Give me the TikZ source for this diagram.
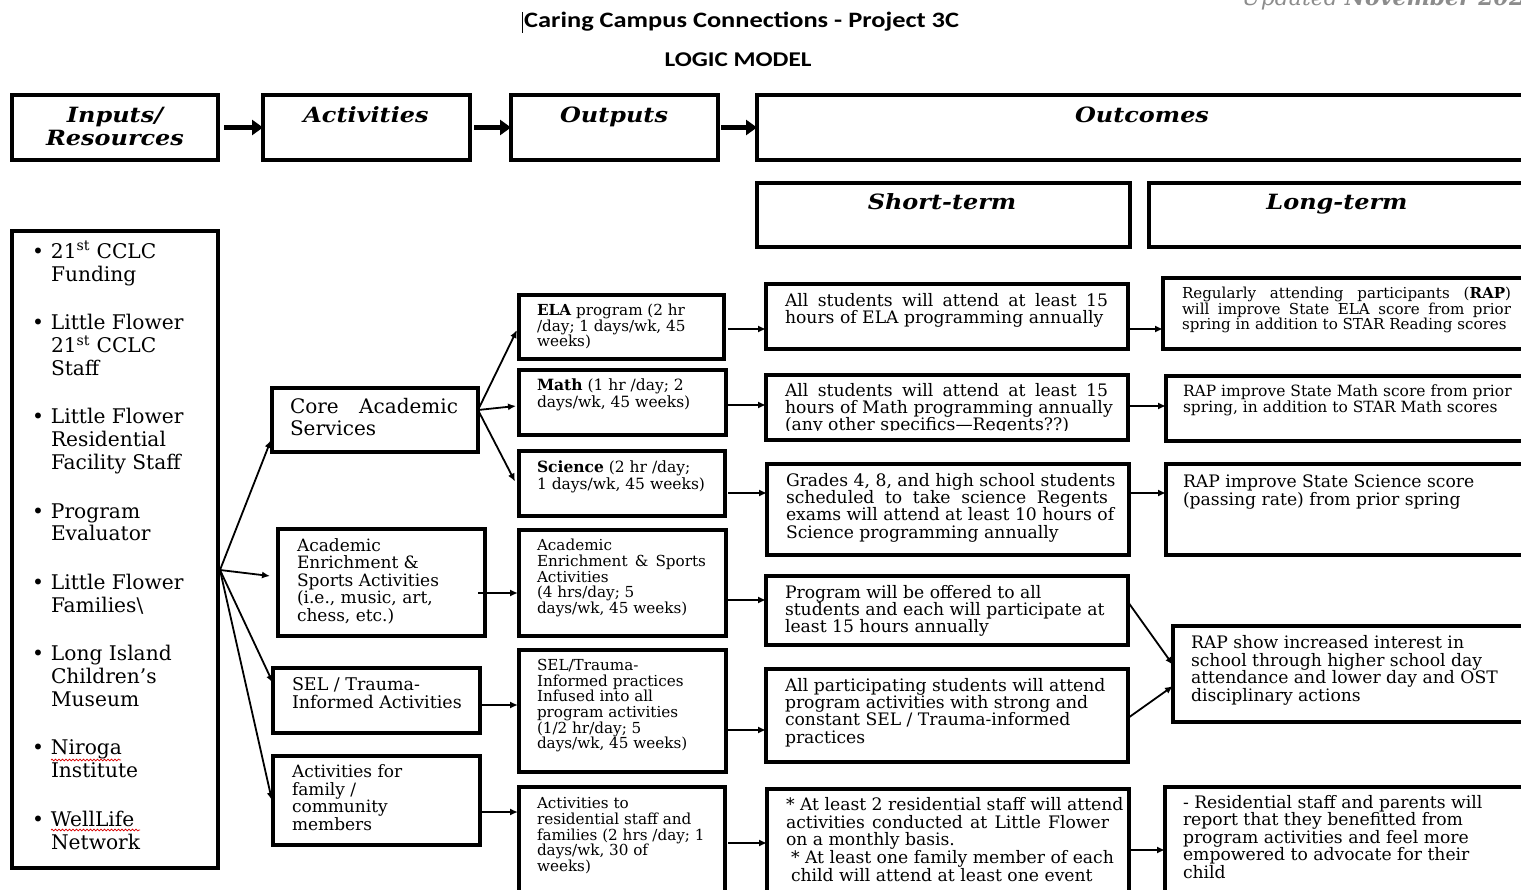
\documentclass[tikz,border=0pt]{standalone}
\usepackage{fontspec}
\setmainfont{DejaVu Serif}
\newfontfamily\titlefont[FakeStretch=1.2]{Carlito}
\newfontfamily\hdrfont[FakeStretch=1.14]{DejaVu Serif}
\usetikzlibrary{arrows.meta,calc,decorations.pathmorphing}
\newcommand\fsz[2]{\fontsize{#1pt}{#2pt}\selectfont}
\newcommand\fstrut{\rule{0pt}{0.8em}}
\newcommand\jl[2]{\makebox[#1pt][s]{#2}}
\newcommand\bul{\makebox[19pt][l]{•}}
\newcommand\ind{\hspace*{19pt}}
\begin{document}
\begin{tikzpicture}[x=1pt,y=-1pt,
 box/.style={draw, line width=3.2pt, anchor=north west, inner sep=0pt, outer sep=0pt},
 txt/.style={anchor=north west, inner sep=0pt, outer sep=0pt, align=left},
 hdr/.style={anchor=north, inner sep=0pt, align=center, font=\hdrfont\fsz{21}{23}\bfseries\itshape},
 arr/.style={line width=1.8pt, -{Latex[length=8pt,width=7pt]}},
 harr/.style={line width=5pt, -{Triangle[length=11pt,width=15pt]}},
 wavy/.style={red!85!black, line width=0.7pt, decorate, decoration={snake, amplitude=0.9pt, segment length=3.5pt}},
]
\useasboundingbox (0,0) rectangle (1521,890);
\clip (0,0) rectangle (1521,890);
\fill[white] (0,0) rectangle (1521,890);

% title
\node[anchor=west, inner sep=0pt, font=\titlefont\bfseries\fsz{22}{24}] (title) at (524,22) {Caring Campus Connections - Project 3C};
\draw[line width=1pt] (title.west) ++(-2,-10) -- ++(0,21);
\node[inner sep=0pt, font=\titlefont\bfseries\fsz{21}{24}] (logic) at (738,60) {LOGIC MODEL};
\node[anchor=base west, inner sep=0pt, text=black!45, font=\fsz{22}{24}\itshape] (upd) at (1242,6) {Updated \textbf{November 2023}};

% header boxes
\node[box, minimum width=206pt, minimum height=65pt] (inp) at (12,95) {};
\node[box, minimum width=207pt, minimum height=65pt] (act) at (263,95) {};
\node[box, minimum width=207pt, minimum height=65pt] (out) at (511,95) {};
\node[box, minimum width=800pt, minimum height=65pt] (outc) at (757,95) {};
\node[box, minimum width=373pt, minimum height=64pt] (st) at (757,183) {};
\node[box, minimum width=400pt, minimum height=64pt] (lt) at (1149,183) {};
\node[hdr] (inpt) at (115,106) {\fstrut Inputs/\\Resources};
\node[hdr] (actt) at (366,106) {\fstrut Activities};
\node[hdr] (outt) at (614,106) {\fstrut Outputs};
\node[hdr] (outct) at (1142,106) {\fstrut Outcomes};
\node[hdr] (stt) at (942,193) {\fstrut Short-term};
\node[hdr] (ltt) at (1337,193) {\fstrut Long-term};
\draw[harr] ($(inp.east)+(6,0)$) -- (act.west);
\draw[harr] ($(act.east)+(4,0)$) -- (out.west);
\draw[harr] ($(out.east)+(3,0)$) -- (outc.west);

% inputs list
\node[box, minimum width=206pt, minimum height=637pt] (res) at (12,231) {};
\node[txt, font=\fsz{20.2}{22.7}] (rest) at (32,241.3) {\fstrut\bul 21\textsuperscript{st} CCLC\\ \ind Funding\\[26pt]
\bul Little Flower\\ \ind 21\textsuperscript{st} CCLC\\ \ind Staff\\[26pt]
\bul Little Flower\\ \ind Residential\\ \ind Facility Staff\\[26pt]
\bul Program\\ \ind Evaluator\\[26pt]
\bul Little Flower\\ \ind Families\textbackslash\\[26pt]
\bul Long Island\\ \ind Children’s\\ \ind Museum\\[26pt]
\bul Niroga\\ \ind Institute\\[26pt]
\bul WellLife\\ \ind Network};
\draw[wavy] (51,760) -- (121,760);
\draw[wavy] (51,830) -- (140,830);

% activities
\node[box, minimum width=206pt, minimum height=64pt] (core) at (272,388) {};
\node[txt, font=\fsz{20}{22}] (coret) at (290,397.4) {\fstrut\jl{168}{Core Academic}\\Services};
\node[box, minimum width=207pt, minimum height=107pt] (aea) at (278,529) {};
\node[txt, font=\fsz{17}{17.5}] (aeat) at (297,537.7) {\fstrut Academic\\Enrichment \&\\Sports Activities\\(i.e., music, art,\\chess, etc.)};
\node[box, minimum width=207pt, minimum height=65pt] (sela) at (273,668) {};
\node[txt, font=\fsz{17.5}{18}] (selat) at (292,676.5) {\fstrut SEL / Trauma-\\Informed Activities};
\node[box, minimum width=207pt, minimum height=89pt] (fama) at (273,756) {};
\node[txt, font=\fsz{17}{17.7}] (famat) at (292,763.7) {\fstrut Activities for\\family /\\community\\members};

% outputs
\node[box, minimum width=205pt, minimum height=64pt] (ela) at (519,295) {};
\node[txt, font=\fsz{15.2}{15.5}] (elat) at (537,303.5) {\fstrut\textbf{ELA} program (2 hr\\/day; 1 days/wk, 45\\weeks)};
\node[box, minimum width=207pt, minimum height=65pt] (math) at (519,370) {};
\node[txt, font=\fsz{15.5}{17}] (matht) at (537,378.3) {\fstrut\textbf{Math} (1 hr /day; 2\\days/wk, 45 weeks)};
\node[box, minimum width=206pt, minimum height=65pt] (sci) at (519,451) {};
\node[txt, font=\fsz{15.5}{17}] (scit) at (537,460.3) {\fstrut\textbf{Science} (2 hr /day;\\1 days/wk, 45 weeks)};
\node[box, minimum width=207pt, minimum height=106pt] (aeo) at (519,530) {};
\node[txt, font=\fsz{15.2}{15.75}] (aeot) at (537,538.5) {\fstrut Academic\\\jl{169}{Enrichment \& Sports}\\Activities\\(4 hrs/day; 5\\days/wk, 45 weeks)};
\node[box, minimum width=207pt, minimum height=122pt] (selo) at (519,650) {};
\node[txt, font=\fsz{15.2}{15.6}] (selot) at (537,658.5) {\fstrut SEL/Trauma-\\Informed practices\\Infused into all\\program activities\\(1/2 hr/day; 5\\days/wk, 45 weeks)};
\node[box, minimum width=206pt, minimum height=150pt] (famo) at (519,787) {};
\node[txt, font=\fsz{15.2}{15.75}] (famot) at (537,796.5) {\fstrut Activities to\\residential staff and\\families (2 hrs /day; 1\\days/wk, 30 of\\weeks)};

% short-term
\node[box, minimum width=362pt, minimum height=65pt] (st1) at (766,284) {};
\node[txt, font=\fsz{17.2}{17}] (st1t) at (785,292.6) {\fstrut\jl{323}{All students will attend at least 15}\\hours of ELA programming annually};
\node[box, minimum width=362pt, minimum height=65pt] (st2) at (766,375) {};
\begin{scope}
\clip (766,375) rectangle (1128,431);
\node[txt, font=\fsz{17.2}{17}] (st2t) at (785,382.6) {\fstrut\jl{323}{All students will attend at least 15}\\hours of Math programming annually\\(any other specifics—Regents??)};
\end{scope}
\node[box, minimum width=362pt, minimum height=91pt] (st3) at (767,464) {};
\node[txt, font=\fsz{17.2}{17.3}] (st3t) at (786,472.6) {\fstrut Grades 4, 8, and high school students\\\jl{322}{scheduled to take science Regents}\\exams will attend at least 10 hours of\\Science programming annually};
\node[box, minimum width=362pt, minimum height=69pt] (st4) at (766,576) {};
\node[txt, font=\fsz{17.2}{17}] (st4t) at (785,584.6) {\fstrut Program will be offered to all\\students and each will participate at\\least 15 hours annually};
\node[box, minimum width=362pt, minimum height=93pt] (st5) at (766,669) {};
\node[txt, font=\fsz{17.2}{17.3}] (st5t) at (785,677.6) {\fstrut All participating students will attend\\program activities with strong and\\constant SEL / Trauma-informed\\practices};
\node[box, minimum width=362pt, minimum height=150pt] (st6) at (767,789) {};
\node[txt, font=\fsz{17.2}{17.7}] (st6t) at (786,796.6) {\fstrut * At least 2 residential staff will attend\\\jl{323}{activities conducted at Little Flower}\\on a monthly basis.\\\hspace*{5pt}* At least one family member of each\\\hspace*{5pt}child will attend at least one event};

% long-term
\node[box, minimum width=400pt, minimum height=71pt] (lt1) at (1163,278) {};
\node[txt, font=\fsz{15.1}{15.5}] (lt1t) at (1182,286.5) {\fstrut\jl{329}{Regularly attending participants (\textbf{RAP})}\\\jl{329}{will improve State ELA score from prior}\\spring in addition to STAR Reading scores};
\node[box, minimum width=400pt, minimum height=65pt] (lt2) at (1166,376) {};
\node[txt, font=\fsz{15.5}{15.5}] (lt2t) at (1183,384.3) {\fstrut RAP improve State Math score from prior\\spring, in addition to STAR Math scores};
\node[box, minimum width=400pt, minimum height=91pt] (lt3) at (1166,464) {};
\node[txt, font=\fsz{17.2}{18}] (lt3t) at (1183,473.6) {\fstrut RAP improve State Science score\\(passing rate) from prior spring};
\node[box, minimum width=400pt, minimum height=96pt] (lt4) at (1173,626) {};
\node[txt, font=\fsz{17.2}{17.7}] (lt4t) at (1191,634.6) {\fstrut RAP show increased interest in\\school through higher school day\\attendance and lower day and OST\\disciplinary actions};
\node[box, minimum width=400pt, minimum height=150pt] (lt5) at (1165,787) {};
\node[txt, font=\fsz{17.2}{17.5}] (lt5t) at (1183,794.6) {\fstrut - Residential staff and parents will\\report that they benefitted from\\program activities and feel more\\empowered to advocate for their\\child};

% inputs -> activities
\coordinate (src) at ($(res.east)+(2,20.5)$);
\draw[line width=1.8pt] ($(res.east)+(0,20.5)$) -- (src);
\draw[arr] (src) -- ($(core.west)+(-1,20)$);
\draw[arr] (src) -- ($(aea.west)+(-8,-6.5)$);
\draw[arr] (src) -- ($(sela.west)+(0,-17.5)$);
\draw[arr] (src) -- ($(fama.west)+(-1,0)$);

% activities -> outputs
\coordinate (csrc) at ($(core.east)+(0,-10)$);
\draw[arr] (csrc) -- ($(ela.west)+(-2,3)$);
\draw[arr] (csrc) -- ($(math.west)+(-3,3.5)$);
\draw[arr] (csrc) -- ($(sci.west)+(-4,-2)$);
\draw[arr] ($(aea.east)+(-7,10.5)$) -- ($(aea.east -| aeo.west)+(-1,10.5)$);
\draw[arr] ($(sela.east)+(0,4.5)$) -- ($(sela.east -| selo.west)+(-1,4.5)$);
\draw[arr] ($(fama.east)+(0,11.5)$) -- ($(fama.east -| famo.west)+(-1,11.5)$);

% outputs -> short-term
\draw[arr] ($(ela.east)+(4,2)$) -- ($(ela.east -| st1.west)+(0,2)$);
\draw[arr] ($(math.east)+(2,2.5)$) -- ($(math.east -| st2.west)+(0,2.5)$);
\draw[arr] ($(sci.east)+(3,9.5)$) -- ($(sci.east -| st3.west)+(0,9.5)$);
\draw[arr] ($(aeo.east)+(2,17)$) -- ($(aeo.east -| st4.west)+(0,17)$);
\draw[arr] ($(selo.east)+(2,19)$) -- ($(selo.east -| st5.west)+(0,19)$);
\draw[arr] ($(famo.east)+(3,-19)$) -- ($(famo.east -| st6.west)+(0,-19)$);

% short-term -> long-term
\draw[arr] ($(st1.east)+(2,12.5)$) -- ($(st1.east -| lt1.west)+(0,12.5)$);
\draw[arr] ($(st2.east)+(2,-1.5)$) -- ($(st2.east -| lt2.west)+(0,-1.5)$);
\draw[arr] ($(st3.east)+(2,-16.5)$) -- ($(st3.east -| lt3.west)+(0,-16.5)$);
\draw[arr] ($(st4.east)+(0,-8.5)$) -- ($(lt4.west)+(0,-9)$);
\draw[arr] ($(st5.east)+(0,2.5)$) -- ($(lt4.west)+(0,12)$);
\draw[arr] ($(st6.east)+(2,-14)$) -- ($(st6.east -| lt5.west)+(0,-14)$);
\end{tikzpicture}
\end{document}
